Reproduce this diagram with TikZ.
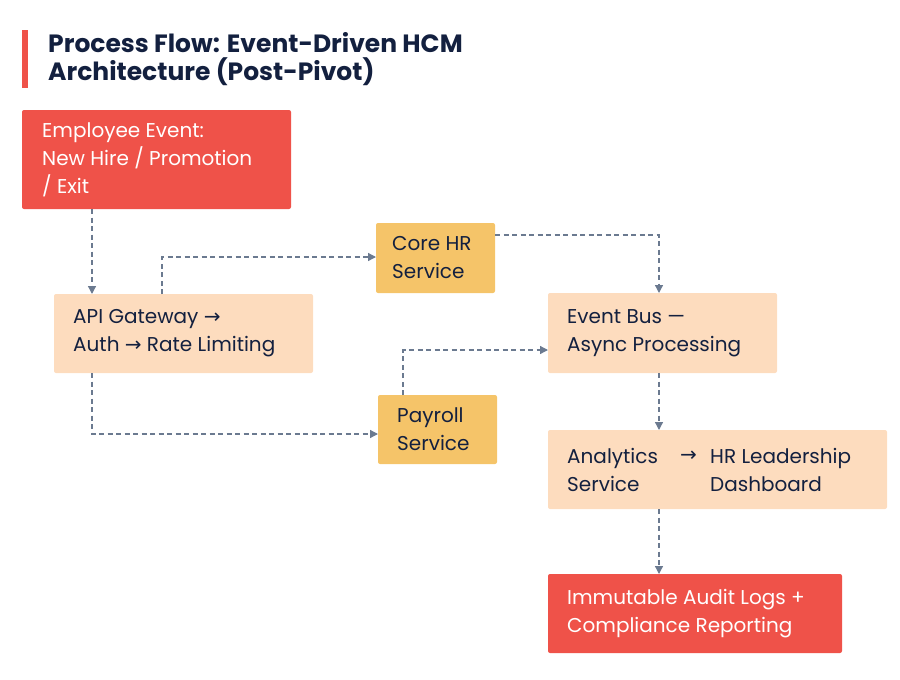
\documentclass[tikz,border=0pt]{standalone}
\usepackage{fontspec}
\setmainfont{Poppins}
\newfontfamily\djv{DejaVu Sans}
\usetikzlibrary{arrows.meta}
\newcommand{\ar}{{\djv →}}
\definecolor{rd}{HTML}{EF5249}
\definecolor{pc}{HTML}{FDDCBE}
\definecolor{yl}{HTML}{F5C469}
\definecolor{nv}{HTML}{13203F}
\definecolor{gr}{HTML}{6B7A90}
\begin{document}
\begin{tikzpicture}[x=1pt,y=-1pt,
 box/.style={rounded corners=2pt,draw=none},
 txt/.style={anchor=west,align=left,font=\fontsize{20}{28}\selectfont\mdseries,inner sep=0pt},
 con/.style={draw=gr,line width=1.3pt,dash pattern=on 5pt off 3.5pt,-{Triangle[length=8pt,width=8pt]}}]
\useasboundingbox (0,0) rectangle (900,680);
\fill[rd] (22,30) rectangle (28,88);
\node[txt,font=\fontsize{25}{28}\selectfont\bfseries,text=nv] (title) at (48,59) {Process Flow: Event-Driven HCM\\Architecture (Post-Pivot)};
% boxes
\fill[box,rd] (22,110) rectangle (291,209) coordinate (eBR);
\node[txt,text=white] (emp) at (42,159.5) {Employee Event:\\New Hire / Promotion\\/ Exit};
\fill[box,pc] (54,294) rectangle (313,373);
\node[txt,text=nv] (api) at (73,333.5) {API Gateway \ar\\Auth \ar{} Rate Limiting};
\fill[box,yl] (376,223) rectangle (495,293);
\node[txt,text=nv] (core) at (392,258) {Core HR\\Service};
\fill[box,yl] (378,395) rectangle (497,464);
\node[txt,text=nv] (pay) at (397,429.5) {Payroll\\Service};
\fill[box,pc] (548,293) rectangle (777,373);
\node[txt,text=nv] (bus) at (567,333) {Event Bus —\\Async Processing};
\fill[box,pc] (548,430) rectangle (887,509);
\node[txt,text=nv] (ana) at (567,469.5) {Analytics\\Service};
\node[txt,text=nv] (anaar) at (680,456) {\ar};
\node[txt,text=nv] (dash) at (710,469.5) {HR Leadership\\Dashboard};
\fill[box,rd] (548,574) rectangle (842,653);
\node[txt,text=white] (aud) at (567,613.5) {Immutable Audit Logs +\\Compliance Reporting};
% named anchor coordinates
\coordinate (e1) at (92,209); \coordinate (a1) at (92,294);
\coordinate (a2) at (162,294); \coordinate (c1) at (376,257);
\coordinate (c2) at (495,235); \coordinate (b1) at (659,293);
\coordinate (a3) at (92,373); \coordinate (p1) at (378,434);
\coordinate (p2) at (403,395); \coordinate (b2) at (548,350);
\coordinate (b3) at (659,373); \coordinate (n1) at (659,430);
\coordinate (n2) at (659,509); \coordinate (u1) at (659,574);
\draw[con] (e1) -- (a1);
\draw[con] (a2) |- (c1);
\draw[con] (c2) -| (b1);
\draw[con] (a3) |- (p1);
\draw[con] (p2) |- (b2);
\draw[con] (b3) -- (n1);
\draw[con] (n2) -- (u1);
\end{tikzpicture}
\end{document}
